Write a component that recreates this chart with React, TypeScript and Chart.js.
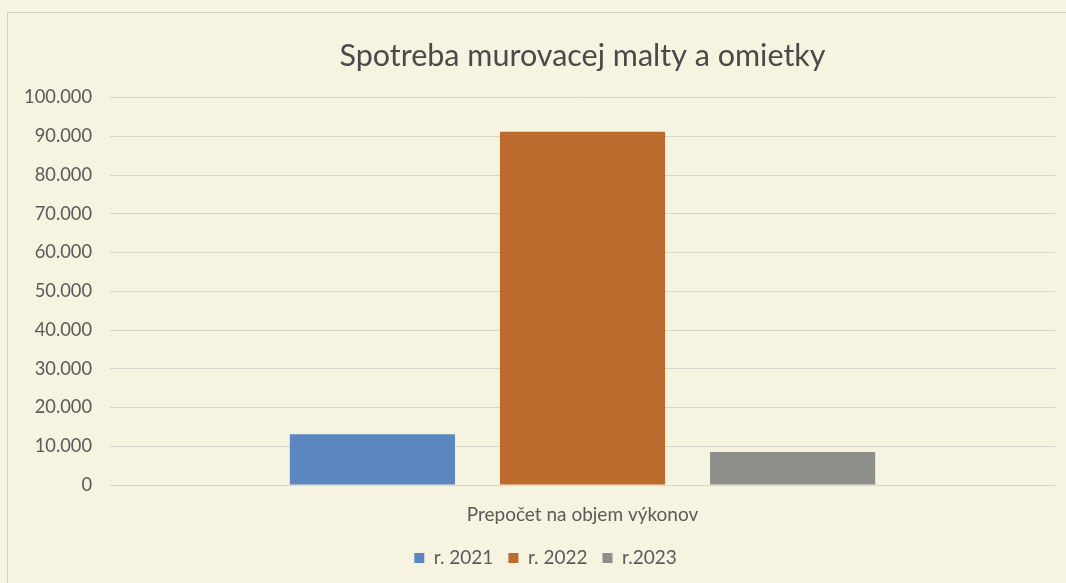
import React, { useEffect, useRef } from "react";
import { Chart, registerables } from "chart.js";

Chart.register(...registerables);

const categories = ["Prepočet na objem výkonov"];
const seriesNames = ["r. 2021", "r. 2022", "r.2023"];
const values2021 = [13100];
const values2022 = [91200];
const values2023 = [8500];
const seriesColors = ["#5b86c0", "#bd6a2f", "#8e8f8a"];
const yTicks = [0, 10000, 20000, 30000, 40000, 50000, 60000, 70000, 80000, 90000, 100000];

const FONT = "Lato, 'Open Sans', sans-serif";
const TEXT = "#5a5a5a";

function fmt(v: number): string {
  return v === 0 ? "0" : Math.round(v).toString().replace(/\B(?=(\d{3})+(?!\d))/g, ".");
}

const shiftPlugin = {
  id: "shiftBlocks",
  afterLayout(chart: any) {
    const ca = chart.chartArea;
    if (chart.titleBlock) {
      chart.titleBlock.left = ca.left;
      chart.titleBlock.right = ca.right;
    }
    if (chart.legend) {
      chart.legend.left += 18;
      chart.legend.right += 18;
    }
  },
};

export default function App() {
  const ref = useRef<HTMLCanvasElement | null>(null);

  useEffect(() => {
    document.body.style.margin = "0";
    const ctx = ref.current!.getContext("2d")!;
    const chart = new Chart(ctx, {
      type: "bar",
      data: {
        labels: categories,
        datasets: [values2021, values2022, values2023].map((d, i) => ({
          label: seriesNames[i],
          data: d,
          backgroundColor: seriesColors[i],
          borderWidth: 0,
          categoryPercentage: 0.667,
          barPercentage: 0.786,
        })),
      },
      plugins: [shiftPlugin],
      options: {
        animation: false,
        responsive: false,
        devicePixelRatio: 1,
        layout: { padding: { left: 0, right: 11, top: 38, bottom: 5.5 } },
        plugins: {
          title: {
            display: true,
            text: "Spotreba murovacej malty a omietky",
            color: "#4a4a4a",
            font: { family: FONT, size: 30.5, weight: "normal" },
            padding: { top: 0, bottom: 23 },
          },
          legend: {
            position: "bottom",
            labels: {
              color: TEXT,
              font: { family: FONT, size: 19 },
              boxWidth: 10,
              boxHeight: 10,
              padding: 15,
            },
          },
          tooltip: { enabled: false },
        },
        scales: {
          x: {
            afterFit: (axis: any) => {
              axis.height = 48.5;
            },
            grid: { display: false, drawTicks: false },
            border: { display: false },
            ticks: { color: TEXT, font: { family: FONT, size: 19 }, padding: 18 },
          },
          y: {
            min: 0,
            max: 100000,
            afterBuildTicks: (axis: any) => {
              axis.ticks = yTicks.map((v) => ({ value: v }));
            },
            afterFit: (axis: any) => {
              axis.width = 110;
            },
            grid: { color: "#d8d6cc", lineWidth: 1, drawTicks: false },
            border: { display: false },
            ticks: {
              color: TEXT,
              font: { family: FONT, size: 18.3 },
              padding: 18,
              callback: (v: any) => fmt(Number(v)),
            },
          },
        },
      },
    });
    return () => chart.destroy();
  }, []);

  return (
    <div style={{ position: "fixed", left: 0, top: 0, width: 1066, height: 583, background: "#f7f3e1", overflow: "hidden" }}>
      <div
        style={{
          position: "absolute",
          left: 7,
          top: 12,
          width: 1080,
          height: 600,
          border: "1px solid #cfccc0",
        }}
      />
      <canvas ref={ref} width={1066} height={583} style={{ position: "absolute", left: 0, top: 0 }} />
    </div>
  );
}
